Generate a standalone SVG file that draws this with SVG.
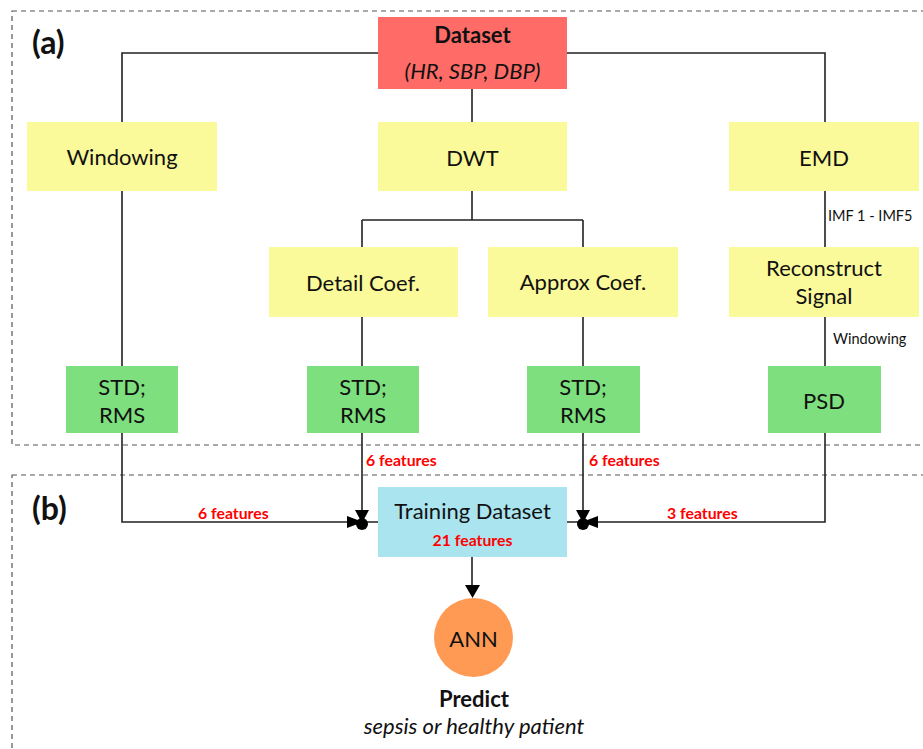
<svg xmlns="http://www.w3.org/2000/svg" width="923" height="749" viewBox="0 0 923 749">
<defs>
<style>
text{font-family:Lato,"Noto Sans","Liberation Sans",sans-serif;fill:#111;}
.t{font-size:22px;text-anchor:middle;dominant-baseline:central;}
.s{font-size:14.5px;}
.r{font-size:15.8px;font-weight:bold;fill:#f00;}
.yel{fill:#fbfa9a;}
.grn{fill:#7ddf7d;}
.ln{stroke:#222;stroke-width:1.6;fill:none;}
.pan{fill:none;stroke:#555;stroke-width:1.2;stroke-dasharray:5 4;}
</style>
</defs>
<rect width="923" height="749" fill="#fff"/>
<rect class="pan" x="12" y="11" width="930" height="434"/>
<rect class="pan" x="12" y="475" width="930" height="300"/>
<text x="32" y="41" style="font-size:32px;font-weight:bold" dominant-baseline="central">(a)</text>
<text x="32" y="507" style="font-size:32px;font-weight:bold" dominant-baseline="central">(b)</text>

<g id="connectors">
<path class="ln" d="M378 53H122V122M567 53H825V122M472 89V122"/>
<path class="ln" d="M472 191V220M362 220H583M362 220V247M583 220V247"/>
<path class="ln" d="M122 191V366M362 317V366M583 317V366M825 191V247M825 317V366"/>
<path class="ln" d="M122 433V522H378M362 433V522M583 433V522M825 433V522H567"/>
<path class="ln" d="M472 557V590"/>
<path d="M465 585L480 585L472.5 598Z" fill="#000"/>
<g fill="#000">
<path d="M347 516L363 522L347 528Z"/>
<path d="M355 510L369 510L362 523Z"/>
<circle cx="362" cy="524" r="6"/>
<path d="M598 516L582 522L598 528Z"/>
<path d="M576 510L590 510L583 523Z"/>
<circle cx="583" cy="524" r="6"/>
</g>
<text class="s" x="828" y="221">IMF 1 - IMF5</text>
<text class="s" x="833" y="344">Windowing</text>
<text class="r" x="366" y="466">6 features</text>
<text class="r" x="589" y="466">6 features</text>
<text class="r" x="198" y="519">6 features</text>
<text class="r" x="667" y="519">3 features</text>
</g>

<g id="dataset">
<rect x="378" y="17" width="189" height="72" fill="#ff6b66"/>
<text class="t" x="472.5" y="34" font-weight="bold">Dataset</text>
<text class="t" x="472.5" y="70" font-style="italic">(HR, SBP, DBP)</text>
</g>
<g id="windowing">
<rect class="yel" x="27" y="122" width="190" height="69"/>
<text class="t" x="122" y="156">Windowing</text>
</g>
<g id="dwt">
<rect class="yel" x="378" y="122" width="189" height="69"/>
<text class="t" x="472.5" y="157">DWT</text>
</g>
<g id="emd">
<rect class="yel" x="729" y="122" width="190" height="69"/>
<text class="t" x="824" y="157">EMD</text>
</g>
<g id="detail">
<rect class="yel" x="269" y="247" width="189" height="70"/>
<text class="t" x="363" y="282">Detail Coef.</text>
</g>
<g id="approx">
<rect class="yel" x="488" y="247" width="190" height="70"/>
<text class="t" x="583" y="281">Approx Coef.</text>
</g>
<g id="reconstruct">
<rect class="yel" x="729" y="247" width="190" height="70"/>
<text class="t" x="824" y="267">Reconstruct</text>
<text class="t" x="824" y="295">Signal</text>
</g>
<g id="std1">
<rect class="grn" x="66" y="366" width="112" height="67"/>
<text class="t" x="122" y="386">STD;</text>
<text class="t" x="122" y="414">RMS</text>
</g>
<g id="std2">
<rect class="grn" x="307" y="366" width="112" height="67"/>
<text class="t" x="363" y="386">STD;</text>
<text class="t" x="363" y="414">RMS</text>
</g>
<g id="std3">
<rect class="grn" x="527" y="366" width="113" height="67"/>
<text class="t" x="583" y="386">STD;</text>
<text class="t" x="583" y="414">RMS</text>
</g>
<g id="psd">
<rect class="grn" x="768" y="366" width="113" height="67"/>
<text class="t" x="824" y="400">PSD</text>
</g>
<g id="training">
<rect x="378" y="487" width="189" height="70" fill="#a9e4ef"/>
<text class="t" x="472.5" y="510">Training Dataset</text>
<text class="r" x="472.5" y="539" text-anchor="middle" dominant-baseline="central">21 features</text>
</g>
<g id="ann">
<circle cx="473.5" cy="637.5" r="39.5" fill="#ff9a55"/>
<text class="t" x="473.5" y="638">ANN</text>
</g>
<g id="predict">
<text class="t" x="474" y="698" font-weight="bold">Predict</text>
<text class="t" x="474" y="725" font-style="italic">sepsis or healthy patient</text>
</g>
</svg>
